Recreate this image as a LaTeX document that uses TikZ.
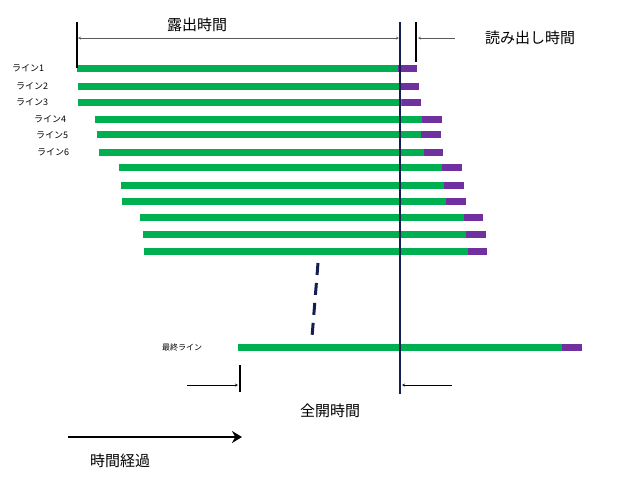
\documentclass[tikz,border=0pt]{standalone}
\usepackage{fontspec}
\usetikzlibrary{arrows.meta}
\newfontfamily\cjk{Noto Sans CJK JP}
\definecolor{gr}{RGB}{0,176,80}
\definecolor{pu}{RGB}{112,48,160}
\definecolor{nv}{RGB}{20,30,80}
\begin{document}
\begin{tikzpicture}[x=1pt,y=-1pt,
 g/.style={fill=gr},
 p/.style={fill=pu},
 lab/.style={font=\cjk\fontsize{9}{10}\selectfont,inner sep=0pt},
 big/.style={font=\cjk\fontsize{15}{17}\selectfont,inner sep=0pt}]
\useasboundingbox (0,0) rectangle (623,491);
\foreach \y/\a/\b/\c in {68/77/398/417,86/78/400/419,102/78/402/421,119/95/422/442,134/97/421/441,152/99/424/443,167/119/442/462,185/121/444/464,201/122/446/466,217/140/464/483,234/143/466/486,251/144/468/487,347/238/562/582}{
 \fill[g] (\a,\y-3.5) rectangle (\b,\y+3.5);
 \fill[p] (\b,\y-3.5) rectangle (\c,\y+3.5);
}
\node[lab] (l1) at (28,68) {ライン1};
\node[lab] (l2) at (32,86) {ライン2};
\node[lab] (l3) at (32,102) {ライン3};
\node[lab] (l4) at (50,119) {ライン4};
\node[lab] (l5) at (52,135) {ライン5};
\node[lab] (l6) at (53,152) {ライン6};
\node[lab,font=\cjk\fontsize{8}{9}\selectfont] (lf) at (182,347) {最終ライン};
\draw[line width=1.3pt,nv] (400,22) -- (400,394);
\draw[line width=1.3pt] (77,22) -- (77,68);
\draw[line width=1.3pt] (416,22) -- (416,62);
\draw[gray!70!black,<->,>=stealth] (78,38) -- (399,38);
\draw[gray!70!black,->,>=stealth] (455,38) -- (418,38);
\node[big] (t1) at (197,25) {露出時間};
\node[big] (t2) at (530,38) {読み出し時間};
\draw[line width=3pt,nv,dash pattern=on 12pt off 8pt] (318,263) -- (312,337);
\draw[line width=1.3pt] (240,365) -- (240,392);
\draw[->,>=stealth] (187,385) -- (238,385);
\draw[->,>=stealth] (452,385) -- (402,385);
\node[big] (t3) at (330,411) {全開時間};
\draw[line width=2.5pt,-{Stealth[length=10pt,width=12pt]}] (68,437) -- (242,437);
\node[big] (t4) at (120,461) {時間経過};
\end{tikzpicture}
\end{document}
